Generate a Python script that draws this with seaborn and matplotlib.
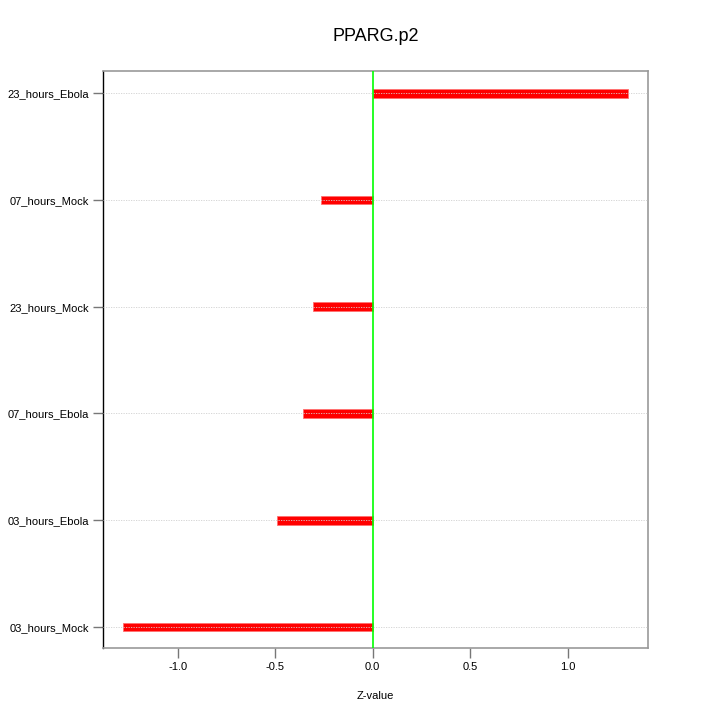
import matplotlib
matplotlib.use("Agg")
import matplotlib.pyplot as plt
import seaborn as sns
import pandas as pd

categories = ["23_hours_Ebola", "07_hours_Mock", "23_hours_Mock",
              "07_hours_Ebola", "03_hours_Ebola", "03_hours_Mock"]
zvalues = [1.308, -0.267, -0.308, -0.36, -0.49, -1.28]
xticks = [-1.0, -0.5, 0.0, 0.5, 1.0]
title = "PPARG.p2"
xlabel = "Z-value"

df = pd.DataFrame({"cat": categories, "z": zvalues})

sns.set_style("white")
plt.rcParams["font.family"] = ["Liberation Sans", "DejaVu Sans"]
plt.rcParams["text.color"] = "black"
plt.rcParams["axes.labelcolor"] = "black"
plt.rcParams["xtick.color"] = "black"
plt.rcParams["ytick.color"] = "black"

fig = plt.figure(figsize=(7.2, 7.2), dpi=100)
ax = fig.add_axes([0.143, 0.1, 0.757, 0.801])

sns.barplot(data=df, x="z", y="cat", order=categories, orient="h",
            color="#ff0000", saturation=1, width=0.08, ax=ax, zorder=2,
            edgecolor="#ff7070", linewidth=0.6)

for i in range(len(categories)):
    ax.axhline(i, color="#d0d0d0", linestyle=(0, (1.5, 1.5)), linewidth=0.6, zorder=3)
ax.axvline(0, color="#00ff00", linewidth=1.2, zorder=4)

ax.set_xlim(-1.3835, 1.4115)
ax.set_ylim(5.197, -0.206)
ax.set_xticks(xticks)
ax.set_xticklabels([f"{t:.1f}" for t in xticks], fontsize=8)
ax.set_yticks(range(len(categories)))
ax.set_yticklabels(categories, fontsize=8)
ax.tick_params(axis="x", bottom=True, direction="out", length=7, width=1,
               color="#777777", labelcolor="black", pad=3)
ax.tick_params(axis="y", left=True, direction="out", length=7, width=1,
               color="#777777", labelcolor="black", pad=3)
ax.set_xlabel(xlabel, fontsize=8, labelpad=14, color="black")
ax.set_ylabel("")
ax.set_title(title, fontsize=13, pad=22, color="black")

for side in ["top", "right", "bottom"]:
    ax.spines[side].set_color("#999999")
    ax.spines[side].set_linewidth(1.2)
ax.spines["left"].set_color("black")
ax.spines["left"].set_linewidth(1.0)

fig.savefig("out.png", dpi=100)
